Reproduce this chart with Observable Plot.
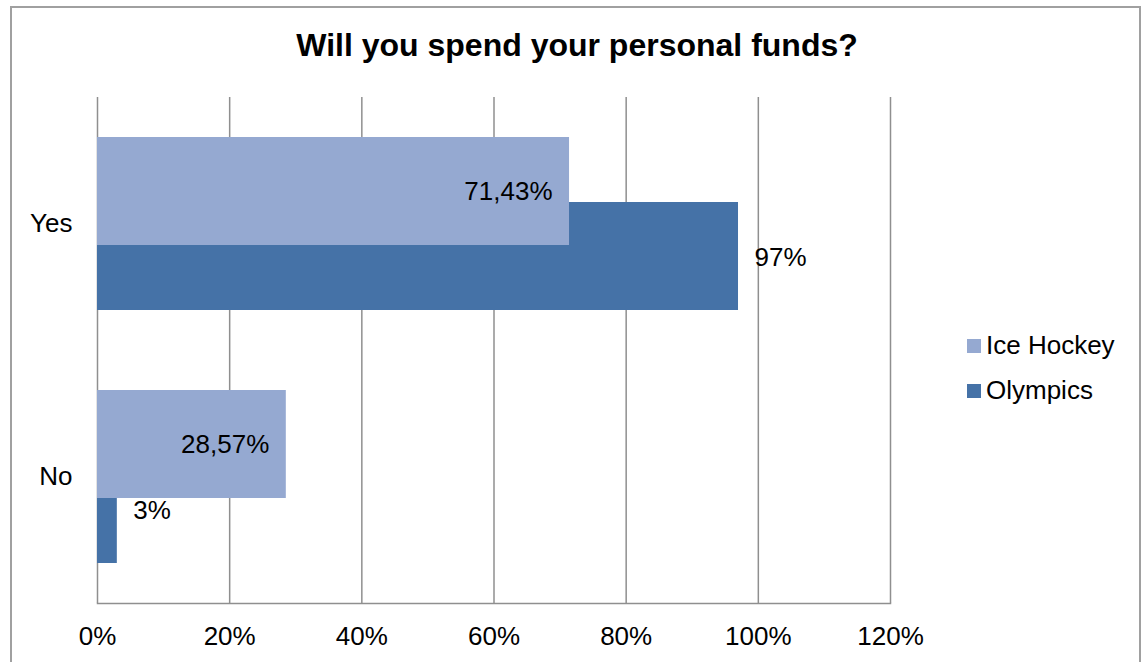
<!DOCTYPE html>
<html>
<head>
<meta charset="utf-8">
<script src="https://cdn.jsdelivr.net/npm/d3@7"></script>
<script src="https://cdn.jsdelivr.net/npm/@observablehq/plot@0.6"></script>
<style>
  html, body { margin: 0; padding: 0; background: #fff; }
  #wrap { position: relative; width: 1146px; height: 662px; overflow: hidden; font-family: "Liberation Sans", Arial, sans-serif; }
  #border { position: absolute; left: 10px; top: 6px; width: 1131px; height: 700px; border: 2px solid #a0a0a0; box-sizing: border-box; pointer-events: none; }
  #title { position: absolute; left: 0; width: 1154px; top: 26px; text-align: center; font-size: 32px; font-weight: bold; color: #000; line-height: 38px; }
  #legend { position: absolute; left: 967px; top: 323px; font-size: 26px; color: #000; }
  .item { display: flex; align-items: center; height: 45px; }
  .sw { width: 14px; height: 14px; margin-right: 5px; }
  #chart { position: absolute; left: 0; top: 0; }
</style>
</head>
<body>
<div id="wrap">
  <div id="chart"></div>
  <div id="border"></div>
  <div id="title">Will you spend your personal funds?</div>
  <div id="legend"></div>
</div>
<script>
const categories = ["Yes", "No"];
const seriesNames = ["Ice Hockey", "Olympics"];
const iceHockey = [71.43, 28.57];
const olympics = [97, 3];
const iceHockeyLabels = ["71,43%", "28,57%"];
const olympicsLabels = ["97%", "3%"];
const xTicks = [0, 20, 40, 60, 80, 100, 120];
const colors = ["#95a9d1", "#4572a7"];

const ih = categories.map((c, i) => ({cat: c, value: iceHockey[i], label: iceHockeyLabels[i]}));
const ol = categories.map((c, i) => ({cat: c, value: olympics[i], label: olympicsLabels[i]}));

const font = "'Liberation Sans', Arial, sans-serif";
const fs = 26;

const chart = Plot.plot({
  width: 1146,
  height: 662,
  marginLeft: 97,
  marginRight: 256,
  marginTop: 97,
  marginBottom: 59,
  style: {fontFamily: font, fontSize: fs + "px", color: "#000", background: "transparent"},
  x: {domain: [0, 120]},
  y: {domain: categories, padding: 0},
  marks: [
    Plot.ruleX(xTicks, {stroke: "#8f8f8f", strokeWidth: 1.5}),
    Plot.frame({anchor: "bottom", stroke: "#8f8f8f", strokeWidth: 1.5}),
    Plot.barX(ol, {x: "value", y: "cat", fill: colors[1], insetTop: 105, insetBottom: 40}),
    Plot.barX(ih, {x: "value", y: "cat", fill: colors[0], insetTop: 40, insetBottom: 105}),
    Plot.text(ih, {x: "value", y: "cat", text: "label", textAnchor: "end", dx: -17, dy: -32, fontSize: fs, fill: "#000"}),
    Plot.text(ol, {x: "value", y: "cat", text: "label", textAnchor: "start", dx: 16, dy: 34, fontSize: fs, fill: "#000"}),
    Plot.axisX({ticks: xTicks, tickFormat: d => d + "%", tickSize: 0, tickPadding: 23, fontSize: fs, label: null}),
    Plot.axisY({tickSize: 0, tickPadding: 25, fontSize: fs, label: null})
  ]
});
document.getElementById("chart").appendChild(chart);

const legend = document.getElementById("legend");
seriesNames.forEach((name, i) => {
  const item = document.createElement("div");
  item.className = "item";
  const sw = document.createElement("div");
  sw.className = "sw";
  sw.style.background = colors[i];
  const t = document.createElement("span");
  t.textContent = name;
  item.appendChild(sw);
  item.appendChild(t);
  legend.appendChild(item);
});
</script>
</body>
</html>
